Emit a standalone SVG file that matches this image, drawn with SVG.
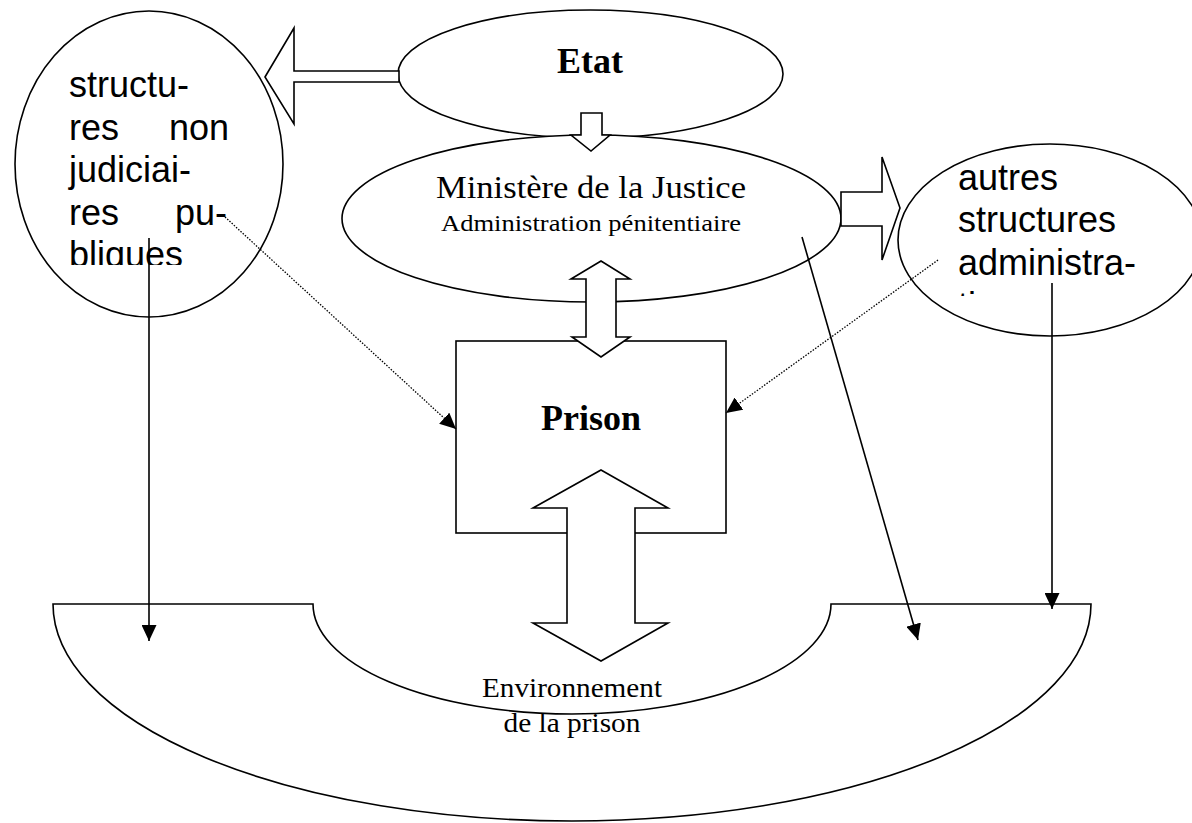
<svg xmlns="http://www.w3.org/2000/svg" width="1192" height="823" viewBox="0 0 1192 823">
<style>
.sh{fill:#fff;stroke:#000;stroke-width:1.6}
.ln{fill:none;stroke:#000;stroke-width:1.6}
.dot{fill:none;stroke:#000;stroke-width:1.3;stroke-dasharray:1.5 1.5}
.sans{font-family:"Liberation Sans",Arial,sans-serif;font-size:36px;fill:#000}
.serif{font-family:"Liberation Serif","Times New Roman",serif;fill:#000}
.b{font-weight:bold;font-size:36px}
</style>
<defs>
<marker id="ah" markerUnits="userSpaceOnUse" markerWidth="17" markerHeight="15" refX="16" refY="7.5" orient="auto" viewBox="0 0 17 15">
<path d="M0,0 L16,7.5 L0,15 Z" fill="#000"/>
</marker>
<clipPath id="clipL"><rect x="0" y="0" width="300" height="265"/></clipPath>
<clipPath id="clipR"><rect x="890" y="100" width="302" height="196"/></clipPath>
</defs>
<rect width="1192" height="823" fill="#fff"/>

<g id="environnement">
<path class="sh" d="M53,604 H313 A259,110 0 0 0 831,604 H1091 A519,217 0 0 1 53,604 Z"/>
<text class="serif" font-size="27" x="572" y="697" text-anchor="middle" textLength="180" lengthAdjust="spacingAndGlyphs">Environnement</text>
<text class="serif" font-size="27" x="572" y="732" text-anchor="middle" textLength="137" lengthAdjust="spacingAndGlyphs">de la prison</text>
</g>

<g id="structures">
<ellipse class="sh" cx="149" cy="164" rx="134" ry="153"/>
<g class="sans" clip-path="url(#clipL)">
<text x="69" y="97">structu-</text>
<text x="69" y="140">res</text>
<text x="229" y="140" text-anchor="end">non</text>
<text x="69" y="182">judiciai-</text>
<text x="69" y="225">res</text>
<text x="227" y="225" text-anchor="end">pu-</text>
<text x="69" y="267">bliques</text>
</g>
</g>

<g id="autres">
<ellipse class="sh" cx="1050" cy="240" rx="152" ry="96"/>
<g class="sans" clip-path="url(#clipR)">
<text x="958" y="190">autres</text>
<text x="958" y="232">structures</text>
<text x="958" y="275">administra-</text>
<text x="958" y="318">tion</text>
</g>
</g>

<g id="etat">
<ellipse class="sh" cx="590.5" cy="74" rx="192.5" ry="64"/>
<text class="serif b" x="590" y="73" text-anchor="middle">Etat</text>
</g>

<g id="ministere">
<ellipse class="sh" cx="591.5" cy="218.5" rx="249.5" ry="83.5"/>
<text class="serif" font-size="31" x="591" y="198" text-anchor="middle" textLength="310" lengthAdjust="spacingAndGlyphs">Ministère de la Justice</text>
<text class="serif" font-size="24" x="591" y="231" text-anchor="middle" textLength="300" lengthAdjust="spacingAndGlyphs">Administration pénitentiaire</text>
</g>

<g id="prison">
<rect class="sh" x="456" y="341" width="270" height="192"/>
<text class="serif b" x="591" y="430" text-anchor="middle">Prison</text>
</g>

<g id="connectors">
<polygon class="sh" points="265,77 294,28 294,71 399,71 399,82 294,82 294,124"/>
<polygon class="sh" points="841,192 882,192 882,157 900,208 882,260 882,226 841,226"/>
<polygon class="sh" points="581,113 602,113 602,135 610,135 591,151 571,135 581,135"/>
<polygon class="sh" points="601,261 630,279 616,279 616,337 630,337 601,357 572,337 586,337 586,279 571,279"/>
<polygon class="sh" points="601,470 668,508 635,508 635,623 668,623 601,661 533,623 567,623 567,508 533,508"/>
<line class="ln" x1="149" y1="238" x2="149" y2="641" marker-end="url(#ah)"/>
<line class="ln" x1="1052" y1="283" x2="1052" y2="609" marker-end="url(#ah)"/>
<line class="ln" x1="802" y1="237" x2="918" y2="640" marker-end="url(#ah)"/>
<line class="dot" x1="225" y1="217" x2="456" y2="429" marker-end="url(#ah)"/>
<line class="dot" x1="938" y1="260" x2="726" y2="413" marker-end="url(#ah)"/>
</g>
</svg>
